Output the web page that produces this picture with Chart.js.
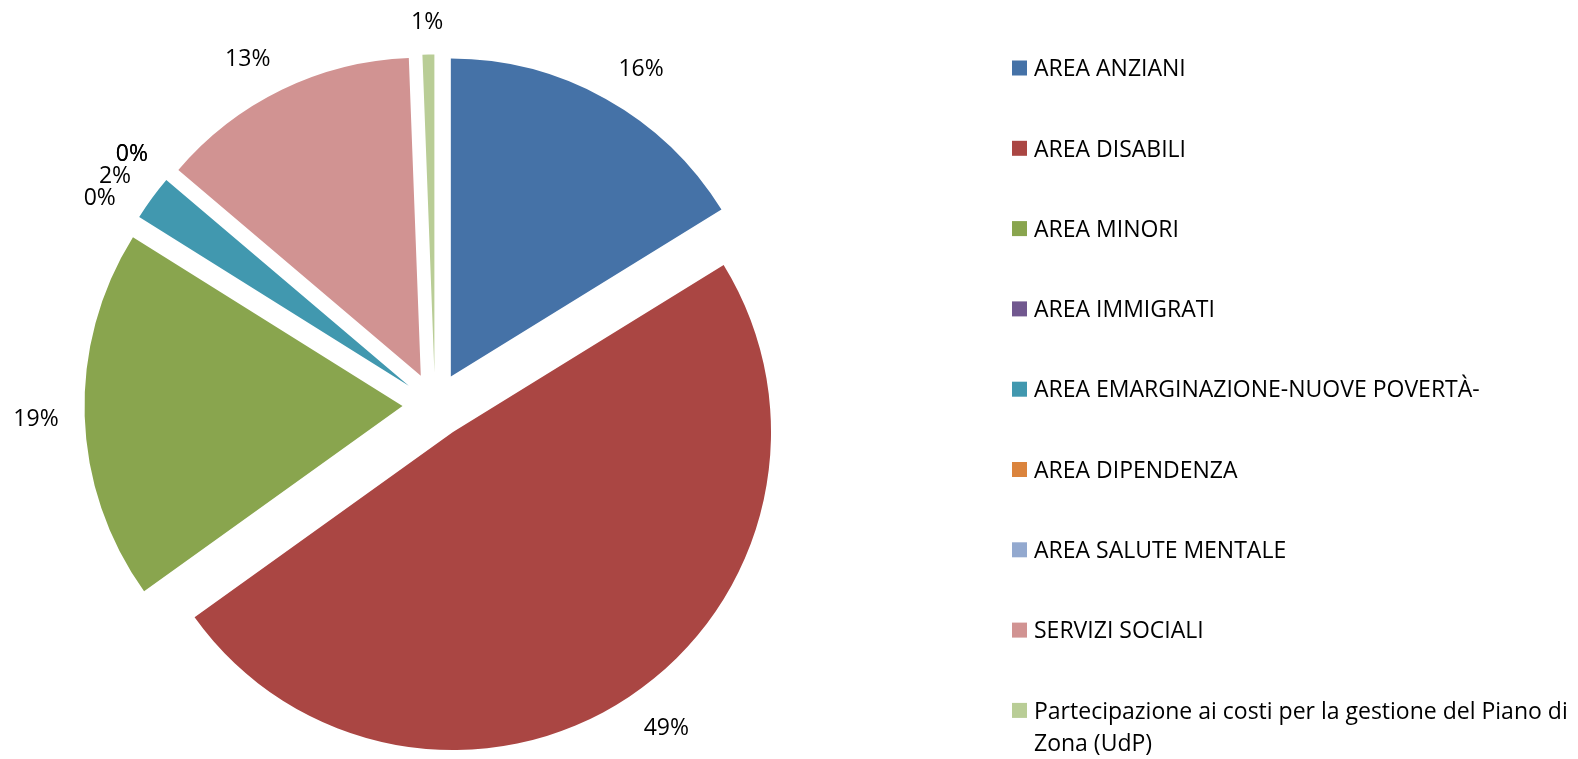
<!DOCTYPE html>
<html>
<head>
<meta charset="utf-8">
<script src="https://cdn.jsdelivr.net/npm/chart.js@4/dist/chart.umd.min.js"></script>
<style>
  html, body { margin: 0; padding: 0; background: #fff; }
</style>
</head>
<body>
<canvas id="chart" width="1578" height="759"></canvas>
<script>
// categories and their share of the total (percent)
const categories = [
  "AREA ANZIANI",
  "AREA DISABILI",
  "AREA MINORI",
  "AREA IMMIGRATI",
  "AREA EMARGINAZIONE-NUOVE POVERTÀ-",
  "AREA DIPENDENZA",
  "AREA SALUTE MENTALE",
  "SERVIZI SOCIALI",
  "Partecipazione ai costi per la gestione del Piano di Zona (UdP)"
];
const shares = [16.2, 48.9, 18.8, 0, 2.3, 0, 0, 13.2, 0.6];
const colors = [
  "#4572A7", "#AA4643", "#89A54E", "#71588F", "#4198AF",
  "#DB843D", "#93A9CF", "#D19392", "#B9CD96"
];

const FONT = "'Open Sans', Lato, sans-serif";
const EXPLODE = 32.5;   // distance each slice is pulled out
const LABEL_GAP = 26;
const TEXT_SIZE = 23;
const CAP = TEXT_SIZE * 0.714;

const clamp = (v) => Math.max(-1, Math.min(1, v));

// draw every slice pulled out along its own bisector
const explodePlugin = {
  id: "explode",
  beforeDatasetDraw(chart, args) {
    const ctx = chart.ctx;
    args.meta.data.forEach((arc) => {
      const mid = (arc.startAngle + arc.endAngle) / 2;
      ctx.save();
      ctx.translate(Math.cos(mid) * EXPLODE, Math.sin(mid) * EXPLODE);
      arc.draw(ctx);
      ctx.restore();
    });
    return false;
  }
};

// percentage labels outside each slice
const labelPlugin = {
  id: "outsideLabels",
  afterDatasetsDraw(chart) {
    const ctx = chart.ctx;
    const meta = chart.getDatasetMeta(0);
    const data = chart.data.datasets[0].data;
    const total = data.reduce((a, b) => a + b, 0);
    ctx.save();
    ctx.font = `${TEXT_SIZE}px ${FONT}`;
    ctx.fillStyle = "#000";
    ctx.textAlign = "center";
    ctx.textBaseline = "alphabetic";
    meta.data.forEach((arc, i) => {
      const mid = (arc.startAngle + arc.endAngle) / 2;
      const dx = Math.cos(mid), dy = Math.sin(mid);
      const rr = arc.outerRadius + EXPLODE + LABEL_GAP;
      const text = Math.round((data[i] / total) * 100) + "%";
      const w = ctx.measureText(text).width;
      const cx = arc.x + dx * rr + clamp(dx * 2.5) * w / 2;
      const cy = arc.y + dy * rr + clamp(dy * 2.5) * CAP / 2;
      ctx.fillText(text, cx, cy + CAP / 2);
    });
    ctx.restore();
  }
};

// legend on the right, Excel style
const legendPlugin = {
  id: "sideLegend",
  afterDraw(chart) {
    const ctx = chart.ctx;
    const x = 1012, top = 68, step = 80.3, box = 15, maxW = 560, lineH = 32;
    ctx.save();
    ctx.font = `${TEXT_SIZE}px ${FONT}`;
    ctx.textBaseline = "alphabetic";
    ctx.textAlign = "left";
    categories.forEach((name, i) => {
      const y = top + i * step;
      ctx.fillStyle = colors[i];
      ctx.fillRect(x, y - box / 2, box, box);
      ctx.fillStyle = "#000";
      const words = name.split(" ");
      const lines = [];
      let line = "";
      words.forEach((wd) => {
        const test = line ? line + " " + wd : wd;
        if (line && ctx.measureText(test).width > maxW) {
          lines.push(line);
          line = wd;
        } else {
          line = test;
        }
      });
      lines.push(line);
      lines.forEach((ln, j) => ctx.fillText(ln, x + 22, y + CAP / 2 + j * lineH));
    });
    ctx.restore();
  }
};

new Chart(document.getElementById("chart"), {
  type: "pie",
  data: {
    labels: categories,
    datasets: [{
      data: shares,
      backgroundColor: colors,
      borderWidth: 0
    }]
  },
  options: {
    responsive: false,
    animation: false,
    radius: 318,
    layout: { padding: { left: 0, right: 708, top: 51, bottom: 0 } },
    plugins: {
      legend: { display: false },
      tooltip: { enabled: false }
    }
  },
  plugins: [explodePlugin, labelPlugin, legendPlugin]
});
</script>
</body>
</html>
